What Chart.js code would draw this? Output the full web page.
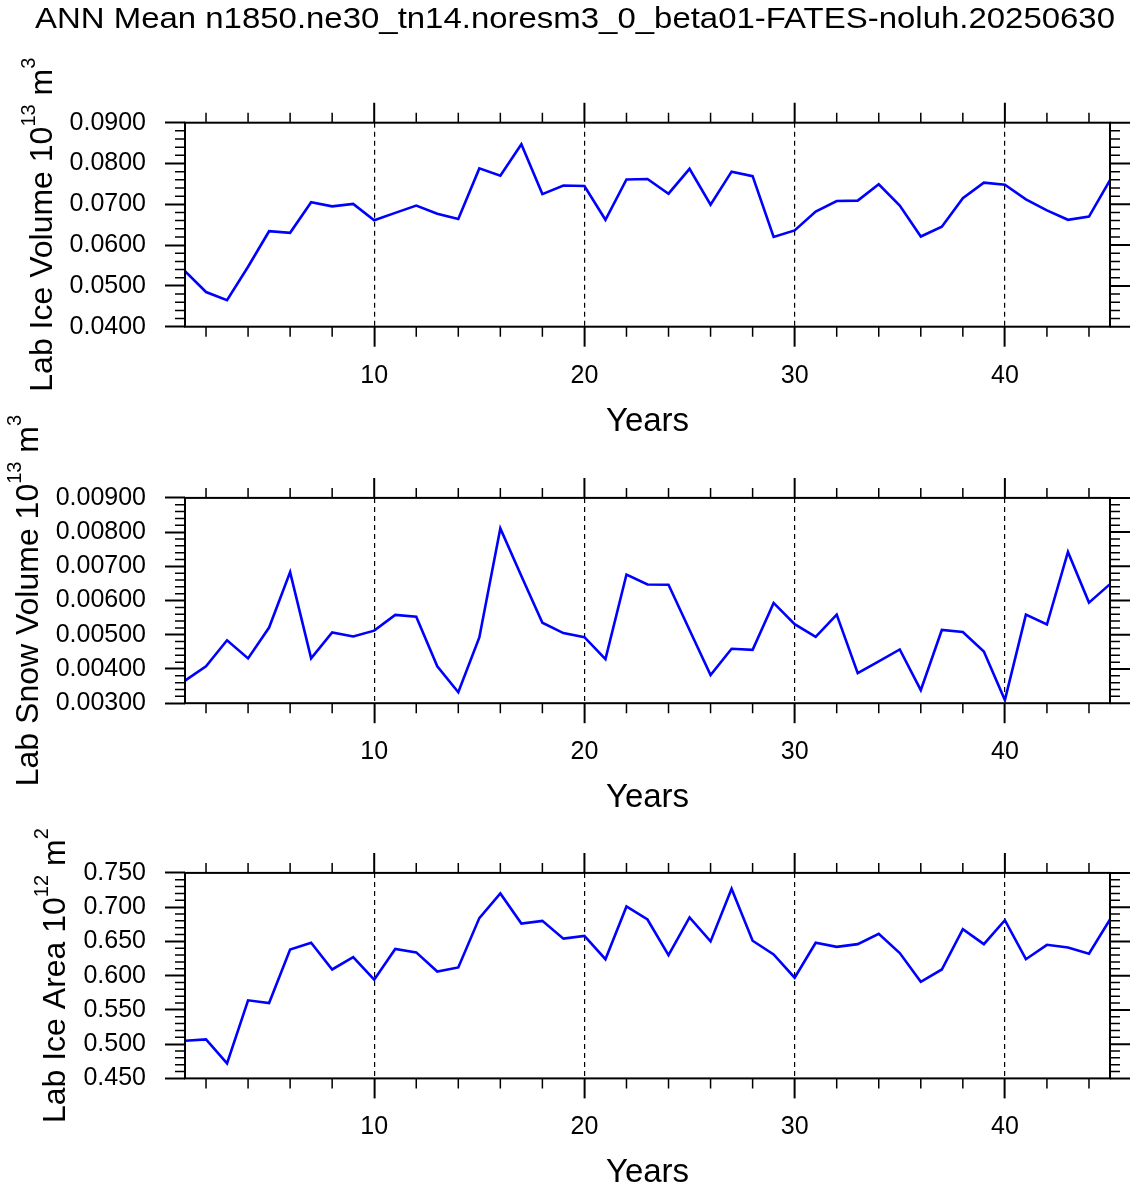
<!DOCTYPE html>
<html>
<head>
<meta charset="utf-8">
<script src="https://cdn.jsdelivr.net/npm/chart.js@4.4.1/dist/chart.umd.min.js"></script>
<style>
    html, body { margin: 0; padding: 0; background: #fff; overflow: hidden; }
    #wrap { position: relative; width: 1136px; height: 1188px; }
    #wrap canvas { position: absolute; left: 0; top: 0; width: 1136px; height: 1188px; }
</style>
</head>
<body>
<div id="wrap">
    <canvas id="panel-1" width="1136" height="1188"></canvas>
    <canvas id="panel-2" width="1136" height="1188"></canvas>
    <canvas id="panel-3" width="1136" height="1188"></canvas>
</div>
<script>
// Dados (média anual, anos 1..45)
const years = [1, 2, 3, 4, 5, 6, 7, 8, 9, 10, 11, 12, 13, 14, 15, 16, 17, 18, 19, 20, 21, 22, 23,
    24, 25, 26, 27, 28, 29, 30, 31, 32, 33, 34, 35, 36, 37, 38, 39, 40, 41, 42, 43, 44, 45];

const iceVolume = [0.0536, 0.0485, 0.0465, 0.0547, 0.0634, 0.0630, 0.0705, 0.0695, 0.0701, 0.0661,
    0.0679, 0.0697, 0.0677, 0.0664, 0.0788, 0.0770, 0.0847, 0.0725, 0.0746, 0.0745,
    0.0662, 0.0761, 0.0762, 0.0726, 0.0787, 0.0699, 0.0780, 0.0769, 0.0620, 0.0636,
    0.0682, 0.0708, 0.0709, 0.0749, 0.0697, 0.0621, 0.0645, 0.0715, 0.0753, 0.0748,
    0.0712, 0.0685, 0.0662, 0.0670, 0.0759];

const snowVolume = [0.00366, 0.00408, 0.00484, 0.00431, 0.00521, 0.00683, 0.00431, 0.00507, 0.00495, 0.00512,
    0.00558, 0.00553, 0.00408, 0.00332, 0.00492, 0.00811, 0.00672, 0.00535, 0.00505, 0.00493,
    0.00429, 0.00676, 0.00647, 0.00646, 0.00514, 0.00382, 0.00459, 0.00456, 0.00593, 0.00531,
    0.00494, 0.00559, 0.00388, 0.00422, 0.00457, 0.00338, 0.00514, 0.00508, 0.00451, 0.00309,
    0.00559, 0.00530, 0.00742, 0.00594, 0.00648];

const iceArea = [0.505, 0.507, 0.472, 0.564, 0.560, 0.638, 0.648, 0.609, 0.627, 0.594,
    0.639, 0.634, 0.606, 0.612, 0.684, 0.720, 0.676, 0.680, 0.654, 0.658,
    0.624, 0.701, 0.682, 0.630, 0.685, 0.650, 0.727, 0.651, 0.631, 0.597,
    0.648, 0.642, 0.646, 0.661, 0.633, 0.591, 0.609, 0.668, 0.646, 0.681,
    0.624, 0.645, 0.641, 0.632, 0.682];

// Ticks
const xMajorTicks = [10, 20, 30, 40];
const xMinorTicks = [2, 4, 6, 8, 12, 14, 16, 18, 22, 24, 26, 28, 32, 34, 36, 38, 42, 44];
const yTicksIceVol = [0.04, 0.05, 0.06, 0.07, 0.08, 0.09];
const yTicksSnowVol = [0.003, 0.004, 0.005, 0.006, 0.007, 0.008, 0.009];
const yTicksIceArea = [0.45, 0.5, 0.55, 0.6, 0.65, 0.7, 0.75];

// Textos
const mainTitle = 'ANN Mean n1850.ne30_tn14.noresm3_0_beta01-FATES-noluh.20250630';
const xTitle = 'Years';
const yTitleIceVol = [['Lab Ice Volume 10', false], ['13', true], [' m', false], ['3', true]];
const yTitleSnowVol = [['Lab Snow Volume 10', false], ['13', true], [' m', false], ['3', true]];
const yTitleIceArea = [['Lab Ice Area 10', false], ['12', true], [' m', false], ['2', true]];

const FONT = '"Liberation Sans", Arial, Helvetica, sans-serif';
const W = 1136, H = 1188;
const PLOT_LEFT = 185, PLOT_RIGHT = 1110;
const X_AXIS_H = 60;
const MAJOR_LEN = 20, MINOR_LEN = 10;
const TICK_FONT = 25;

const frameTicks = {
    id: 'frameTicks',
    afterDatasetsDraw: (chart, args, opts) => {
        const { ctx, chartArea: a, scales: { x, y } } = chart;
        ctx.save();
        ctx.strokeStyle = '#000';

        // minor ticks on all sides
        ctx.lineWidth = 1.5;
        ctx.beginPath();
        xMinorTicks.forEach(v => {
            const px = x.getPixelForValue(v);
            ctx.moveTo(px, a.bottom); ctx.lineTo(px, a.bottom + MINOR_LEN);
            ctx.moveTo(px, a.top); ctx.lineTo(px, a.top - MINOR_LEN);
        });
        const t = opts.yTicks;
        const step = (t[1] - t[0]) / 5;
        for (let i = 0; i < t.length - 1; i++) {
            for (let k = 1; k < 5; k++) {
                const py = y.getPixelForValue(t[i] + k * step);
                ctx.moveTo(a.left, py); ctx.lineTo(a.left - MINOR_LEN, py);
                ctx.moveTo(a.right, py); ctx.lineTo(a.right + MINOR_LEN, py);
            }
        }
        ctx.stroke();

        // major ticks top & right
        ctx.lineWidth = 2;
        ctx.beginPath();
        xMajorTicks.forEach(v => {
            const px = x.getPixelForValue(v);
            ctx.moveTo(px, a.top); ctx.lineTo(px, a.top - MAJOR_LEN);
        });
        t.forEach(v => {
            const py = y.getPixelForValue(v);
            ctx.moveTo(a.right, py); ctx.lineTo(a.right + MAJOR_LEN, py);
        });
        ctx.stroke();

        // frame
        ctx.lineWidth = 2;
        ctx.strokeRect(a.left, a.top, a.right - a.left, a.bottom - a.top);

        ctx.fillStyle = '#000';

        // x title
        ctx.font = '33px ' + FONT;
        ctx.textAlign = 'center';
        ctx.textBaseline = 'alphabetic';
        ctx.fillText(xTitle, (a.left + a.right) / 2, a.bottom + 104);

        // y title (rotated, with superscripts)
        ctx.font = TICK_FONT + 'px ' + FONT;
        const maxW = Math.max(...t.map(v => ctx.measureText(v.toFixed(opts.decimals)).width));
        const baseX = a.left - MAJOR_LEN - 20 - maxW - 17;
        const segs = opts.yTitle.map(([txt, sup]) => {
            ctx.font = (sup ? '20px ' : '32px ') + FONT;
            return { txt, sup, w: ctx.measureText(txt).width };
        });
        const total = segs.reduce((s, g) => s + g.w, 0);
        ctx.translate(baseX, (a.top + a.bottom) / 2);
        ctx.rotate(-Math.PI / 2);
        ctx.textAlign = 'left';
        let cx = -total / 2;
        segs.forEach(g => {
            ctx.font = (g.sup ? '20px ' : '32px ') + FONT;
            ctx.fillText(g.txt, cx, g.sup ? -17 : 0);
            cx += g.w;
        });
        ctx.setTransform(1, 0, 0, 1, 0, 0);

        if (opts.showMainTitle) {
            // titulo esticado para a largura da referência
            ctx.font = '29px ' + FONT;
            ctx.textAlign = 'center';
            const tw = ctx.measureText(mainTitle).width;
            ctx.translate(575, 28);
            ctx.scale(1080 / tw, 1);
            ctx.fillText(mainTitle, 0, 0);
            ctx.setTransform(1, 0, 0, 1, 0, 0);
        }
        ctx.restore();
    }
};

const makePanel = (id, values, yTicks, decimals, yTitle, top, bottom, showMainTitle) => {
    return new Chart(document.getElementById(id), {
        type: 'line',
        data: {
            datasets: [{
                data: years.map((yr, i) => ({ x: yr, y: values[i] })),
                borderColor: '#0000ff',
                borderWidth: 2.6,
                pointRadius: 0,
                tension: 0,
                fill: false
            }]
        },
        options: {
            responsive: false,
            animation: false,
            devicePixelRatio: 1,
            events: [],
            layout: {
                padding: { top: top, bottom: H - bottom - X_AXIS_H, left: 0, right: W - PLOT_RIGHT }
            },
            plugins: {
                legend: { display: false },
                tooltip: { enabled: false },
                frameTicks: { yTicks, decimals, yTitle, showMainTitle }
            },
            scales: {
                x: {
                    type: 'linear',
                    min: 1,
                    max: 45,
                    afterBuildTicks: s => { s.ticks = xMajorTicks.map(v => ({ value: v })); },
                    afterFit: s => { s.height = X_AXIS_H; },
                    grid: {
                        color: '#000',
                        lineWidth: 1.2,
                        tickLength: MAJOR_LEN,
                        tickColor: '#000',
                        tickWidth: 2
                    },
                    border: { display: false, dash: [5, 4] },
                    ticks: {
                        color: '#000',
                        font: { family: FONT, size: TICK_FONT },
                        padding: 14,
                        maxRotation: 0,
                        autoSkip: false
                    }
                },
                y: {
                    min: yTicks[0],
                    max: yTicks[yTicks.length - 1],
                    afterBuildTicks: s => { s.ticks = yTicks.map(v => ({ value: v })); },
                    afterFit: s => { s.width = PLOT_LEFT; },
                    grid: {
                        drawOnChartArea: false,
                        tickLength: MAJOR_LEN,
                        tickColor: '#000',
                        tickWidth: 2
                    },
                    border: { display: false },
                    ticks: {
                        color: '#000',
                        font: { family: FONT, size: TICK_FONT },
                        padding: 19,
                        autoSkip: false,
                        callback: v => Number(v).toFixed(decimals)
                    }
                }
            }
        },
        plugins: [frameTicks]
    });
};

makePanel('panel-1', iceVolume, yTicksIceVol, 4, yTitleIceVol, 122.7, 326.7, true);
makePanel('panel-2', snowVolume, yTicksSnowVol, 5, yTitleSnowVol, 497.9, 703.2, false);
makePanel('panel-3', iceArea, yTicksIceArea, 3, yTitleIceArea, 872.9, 1078.4, false);
</script>
</body>
</html>
